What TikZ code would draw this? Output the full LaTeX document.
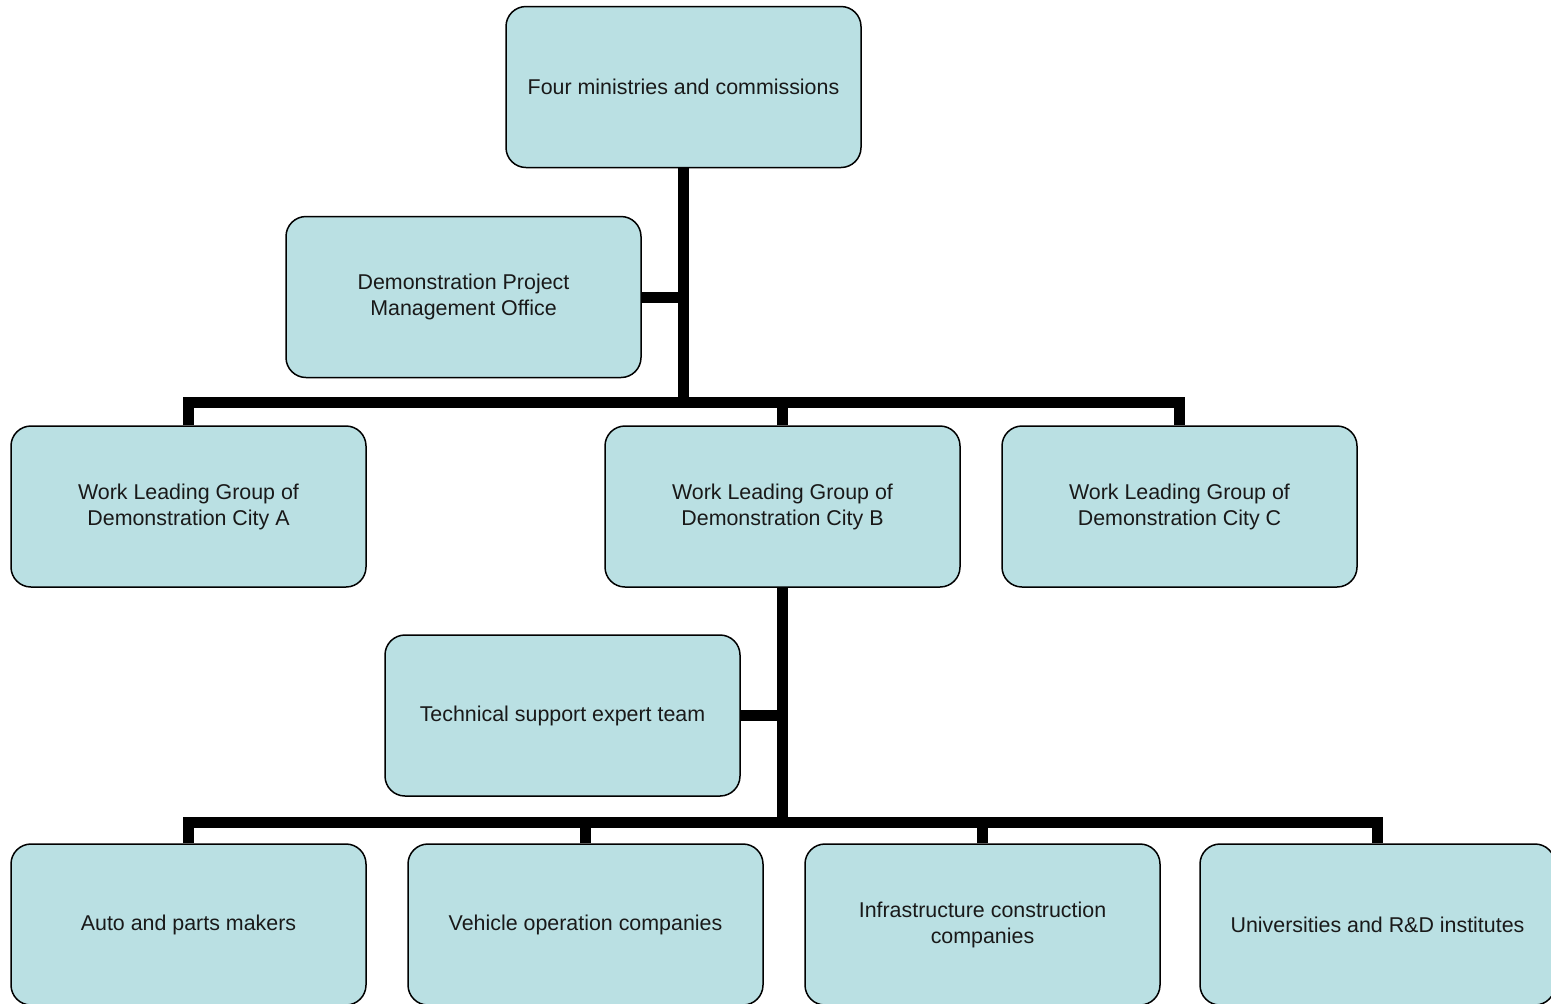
\documentclass[tikz,border=0pt]{standalone}
\usepackage{fontspec}
\setmainfont{Liberation Sans}
\definecolor{boxfill}{RGB}{186,224,227}
\begin{document}
\begin{tikzpicture}[x=0.5pt,y=-0.5pt,
  orgbox/.style={draw=black, line width=0.75pt, fill=boxfill, rounded corners=10pt,
    minimum width=177.5pt, minimum height=80.5pt, inner sep=0pt,
    align=center, font=\fontsize{10.7}{13}\selectfont, text=black!90},
  link/.style={line width=5.5pt, line join=miter, draw=black}]
\clip (0,0) rectangle (1551,1003);
\fill[white] (0,0) rectangle (1551,1003);
% nodes
\node[orgbox] (top) at (683.5,87) {Four ministries and commissions};
\node[orgbox] (dpmo) at (463.5,297) {Demonstration Project\\Management Office};
\node[orgbox] (cityA) at (188.5,506.5) {Work Leading Group of\\Demonstration City A};
\node[orgbox] (cityB) at (782.5,506.5) {Work Leading Group of\\Demonstration City B};
\node[orgbox] (cityC) at (1179.5,506.5) {Work Leading Group of\\Demonstration City C};
\node[orgbox] (tech) at (562.5,715.5) {Technical support expert team};
\node[orgbox] (auto) at (188.5,924.5) {Auto and parts makers};
\node[orgbox] (veh) at (585.5,924.5) {Vehicle operation companies};
\node[orgbox] (infra) at (982.5,924.5) {Infrastructure construction\\companies};
\node[orgbox] (univ) at (1377.5,924.5) {Universities and R\&D institutes};
% junctions
\coordinate (j1) at (683.5,402.5);
\coordinate (j2) at (782.5,822);
% connectors
\draw[link] (top.south) -- (j1);
\draw[link] (dpmo.east) -- (dpmo.east -| j1);
\draw[link] (cityA.north) |- (j1) -| (cityC.north);
\draw[link] (cityB.north) -- (cityB.north |- j1);
\draw[link] (cityB.south) -- (j2);
\draw[link] (tech.east) -- (tech.east -| j2);
\draw[link] (auto.north) |- (j2) -| (univ.north);
\draw[link] (veh.north) -- (veh.north |- j2);
\draw[link] (infra.north) -- (infra.north |- j2);
\end{tikzpicture}
\end{document}
